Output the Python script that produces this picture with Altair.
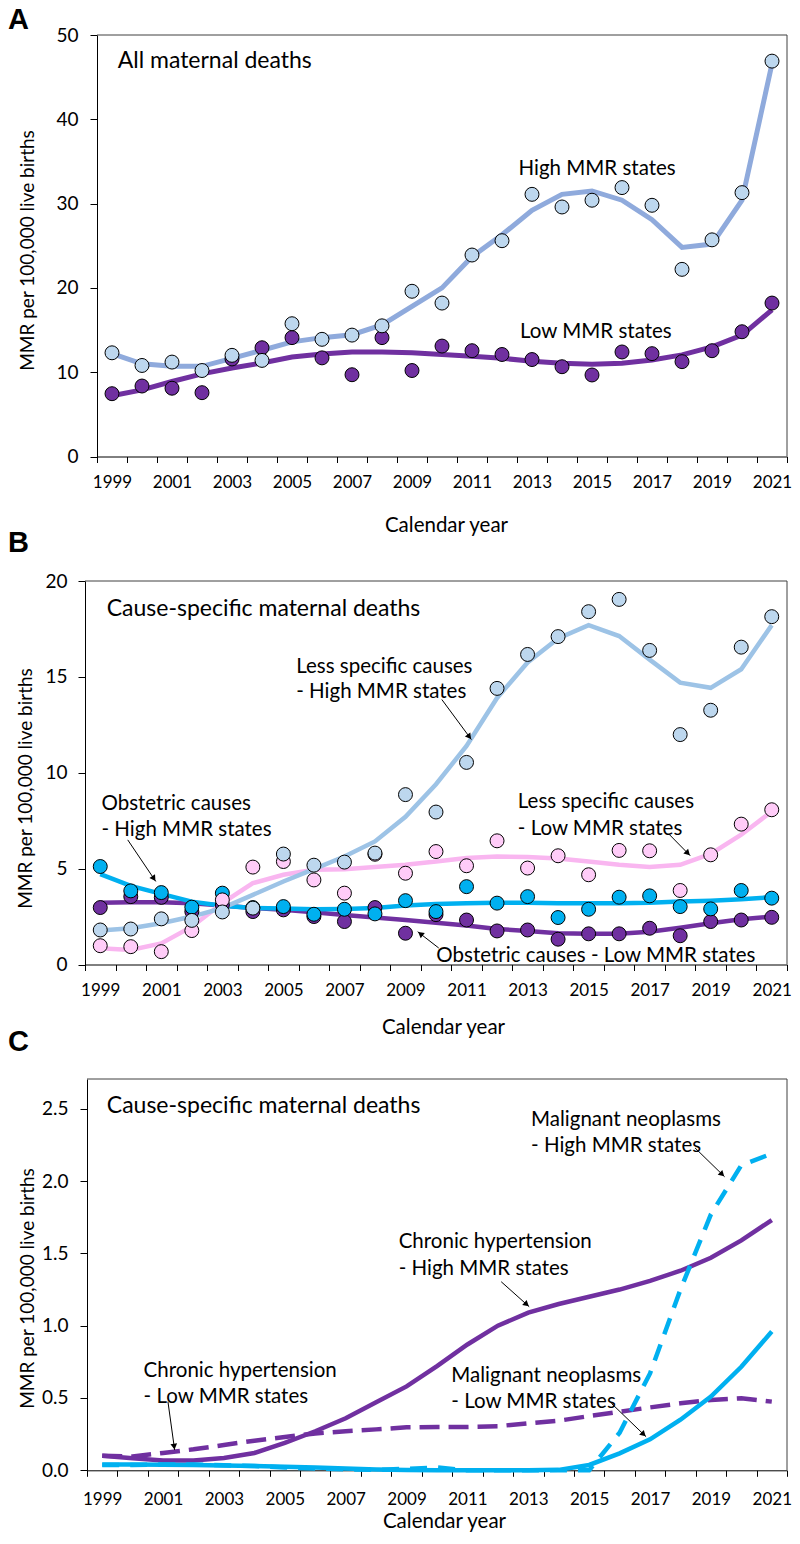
import math
import altair as alt
import pandas as pd

FONT = "Lato"
years = list(range(1999, 2022))

# ---------------- Panel A: all maternal deaths ----------------
a_high_pts = [12.3, 10.8, 11.2, 10.2, 12.0, 11.4, 15.75, 13.9, 14.4, 15.5, 19.6, 18.2,
              23.9, 25.6, 31.1, 29.6, 30.4, 31.9, 29.8, 22.2, 25.7, 31.3, 46.9]
a_high_fit = [12.2, 11.0, 10.7, 10.7, 11.65, 12.6, 13.6, 14.1, 14.45, 15.6, 17.8, 20.0,
              23.7, 26.3, 29.2, 31.1, 31.5, 30.4, 28.1, 24.8, 25.2, 30.4, 46.6]
a_low_pts = [7.45, 8.36, 8.1, 7.57, 11.57, 12.9, 14.1, 11.7, 9.7, 14.1, 10.2, 13.1,
             12.55, 12.1, 11.5, 10.65, 9.67, 12.4, 12.2, 11.25, 12.55, 14.8, 18.2]
a_low_fit = [7.2, 7.9, 8.9, 9.8, 10.5, 11.1, 11.8, 12.15, 12.4, 12.4, 12.3, 12.1,
             11.9, 11.65, 11.3, 11.05, 10.95, 11.05, 11.45, 12.05, 13.0, 14.4, 17.4]

# ---------------- Panel B: cause-specific ----------------
b_lsh_pts = [1.8, 1.85, 2.38, 2.3, 2.74, 2.94, 5.76, 5.18, 5.34, 5.81, 8.86, 7.95,
             10.54, 14.4, 16.17, 17.1, 18.4, 19.04, 16.38, 11.99, 13.26, 16.55, 18.14]
b_lsh_fit = [1.77, 1.89, 2.15, 2.5, 2.94, 3.63, 4.33, 4.97, 5.63, 6.42, 7.7, 9.4,
             11.4, 13.9, 15.75, 17.0, 17.7, 17.13, 15.9, 14.7, 14.43, 15.4, 17.7]
b_lsl_pts = [0.98, 0.93, 0.67, 1.77, 3.37, 5.08, 5.37, 4.41, 3.72, 5.75, 4.76, 5.89,
             5.15, 6.45, 5.03, 5.67, 4.68, 5.95, 5.93, 3.86, 5.72, 7.32, 8.07]
b_lsl_fit = [0.85, 0.76, 1.1, 1.97, 3.2, 4.24, 4.68, 4.94, 4.97, 5.08, 5.2, 5.37,
             5.55, 5.63, 5.6, 5.53, 5.37, 5.2, 5.08, 5.2, 5.77, 6.77, 7.98]
b_obh_pts = [5.11, 3.84, 3.75, 2.99, 3.72, 2.97, 3.02, 2.62, 2.88, 2.64, 3.33, 2.76,
             4.06, 3.2, 3.54, 2.45, 2.88, 3.51, 3.58, 3.02, 2.9, 3.86, 3.46]
b_obh_fit = [4.71, 4.1, 3.68, 3.28, 3.06, 2.95, 2.92, 2.88, 2.9, 2.95, 3.08, 3.16,
             3.2, 3.22, 3.22, 3.2, 3.2, 3.2, 3.22, 3.28, 3.33, 3.4, 3.51]
b_obl_pts = [2.97, 3.54, 3.5, 2.76, 3.1, 2.76, 2.85, 2.5, 2.24, 2.97, 1.63, 2.6,
             2.32, 1.75, 1.8, 1.32, 1.6, 1.6, 1.89, 1.5, 2.24, 2.32, 2.46]
b_obl_fit = [3.22, 3.25, 3.25, 3.2, 3.08, 2.95, 2.85, 2.72, 2.58, 2.45, 2.32, 2.18,
             2.03, 1.85, 1.75, 1.63, 1.6, 1.6, 1.71, 1.92, 2.15, 2.36, 2.5]

# ---------------- Panel C: specific causes ----------------
c_chh = [0.10, 0.083, 0.068, 0.068, 0.085, 0.12, 0.19, 0.27, 0.36, 0.47, 0.58, 0.72,
         0.87, 1.0, 1.09, 1.15, 1.2, 1.25, 1.31, 1.38, 1.47, 1.59, 1.73]
c_chl = [0.10, 0.096, 0.12, 0.145, 0.175, 0.205, 0.23, 0.255, 0.27, 0.283, 0.297, 0.3,
         0.3, 0.305, 0.325, 0.343, 0.375, 0.405, 0.435, 0.463, 0.486, 0.498, 0.475]
c_mnh = [0.037, 0.037, 0.04, 0.04, 0.035, 0.03, 0.02, 0.012, 0.006, 0.003, 0.01, 0.02,
         0.0, -0.05, -0.1, -0.09, -0.02, 0.26, 0.67, 1.25, 1.77, 2.11, 2.19]
c_mnl = [0.04, 0.04, 0.038, 0.036, 0.034, 0.03, 0.025, 0.02, 0.012, 0.005, 0.002, 0.0,
         -0.01, -0.01, -0.005, 0.003, 0.037, 0.117, 0.214, 0.35, 0.51, 0.716, 0.96]

# panel headers (text, year position, value position)
a_header = ("All maternal deaths", 1999.19, 46.87)
b_header = ("Cause-specific maternal deaths", 1999.21, 18.53)
c_header = ("Cause-specific maternal deaths", 1999.15, 2.517)

# annotation labels (text, year position, value position, align)
a_labels = [("High MMR states", 2015.17, 34.1, "center"),
            ("Low MMR states", 2015.13, 14.77, "center")]
b_labels = [("Less specific causes", 2005.42, 15.53, "left"),
            ("- High MMR states", 2005.42, 14.22, "left"),
            ("Less specific causes", 2012.68, 8.47, "left"),
            ("- Low MMR states", 2012.68, 7.08, "left"),
            ("Obstetric causes", 1999.04, 8.39, "left"),
            ("- High MMR states", 1999.04, 6.99, "left"),
            ("Obstetric causes - Low MMR states", 2010.01, 0.46, "left")]
c_labels = [("Malignant neoplasms", 2013.09, 2.423, "left"),
            ("- High MMR states", 2013.09, 2.245, "left"),
            ("Chronic hypertension", 2008.74, 1.577, "left"),
            ("- High MMR states", 2008.74, 1.392, "left"),
            ("Chronic hypertension", 2000.36, 0.685, "left"),
            ("- Low MMR states", 2000.36, 0.505, "left"),
            ("Malignant neoplasms", 2010.47, 0.654, "left"),
            ("- Low MMR states", 2010.47, 0.472, "left")]

# arrows: (year start, value start, year end, value end)
b_arrows = [(2010.19, 13.82, 2011.16, 11.73),
            (2017.65, 6.77, 2018.33, 5.67),
            (1999.90, 6.50, 2000.82, 4.33),
            (2010.09, 0.86, 2009.40, 1.71)]
c_arrows = [(2018.48, 2.229, 2019.45, 2.030),
            (2012.11, 1.304, 2013.03, 1.131),
            (2001.16, 0.474, 2001.38, 0.140),
            (2015.73, 0.463, 2016.87, 0.232)]

PURPLE = "#7030A0"
CYAN = "#00B0F0"
LB_FILL = "#BDD7EE"
PINK_FILL = "#FFCCF8"
PINK_LINE = "#F9B6F0"
FRAME = "#404040"

VW, VH = 784, 1524          # whole drawing area (page x 8..792, y 8..1532)
PLOT_RIGHT = 779


def make_panel(cfg):
    left, right = cfg["left"], PLOT_RIGHT
    top, bottom = cfg["top"], cfg["bottom"]
    W, H = right - left, bottom - top
    step = W / 23.0
    ppu = H / cfg["ymax"]
    xenc = alt.X(
        "year:Q",
        scale=alt.Scale(domain=[1998.5, 2021.5], range=[left, right], nice=False, zero=False),
        axis=alt.Axis(
            orient="bottom", offset=-(VH - bottom),
            values=[1998.5 + k for k in range(24)],
            labelExpr="(datum.value + 0.5) % 2 == 1 ? '' + (datum.value + 0.5) : ''",
            labelOffset=step / 2, labelFlush=False, labelOverlap=False,
            tickSize=6, labelPadding=cfg["xlp"], labelFontSize=17,
            titleFontSize=20.5, titleX=cfg["xtx"], titleY=cfg["xty"],
            titleBaseline="top", titleAlign="center", grid=False),
        title="Calendar year")
    yenc = alt.Y(
        "v:Q",
        scale=alt.Scale(domain=[0, cfg["ymax"]], range=[bottom, top], nice=False,
                        zero=False, clamp=True),
        axis=alt.Axis(orient="left", offset=-left, values=cfg["yvals"], format=cfg["yfmt"],
                      tickSize=7, labelPadding=cfg["ylp"], labelFontSize=19, titleFontSize=19,
                      titleX=cfg["ytx"], titleY=cfg["yty"], grid=False),
        title="MMR per 100,000 live births")

    layers = []
    frame = pd.DataFrame([dict(year=1998.5, v=cfg["ymax"], year2=2021.5, v2=cfg["ymax"]),
                          dict(year=2021.5, v=0, year2=2021.5, v2=cfg["ymax"])])
    layers.append(alt.Chart(frame).mark_rule(color=FRAME, strokeWidth=1).encode(
        x=xenc, y=yenc, x2=alt.X2("year2:Q"), y2=alt.Y2("v2:Q")))

    for vals, color, width, dash in cfg["lines"]:
        df = pd.DataFrame({"year": years, "v": vals})
        kw = dict(color=color, strokeWidth=width)
        if dash:
            kw["strokeDash"] = dash
        layers.append(alt.Chart(df).mark_line(**kw).encode(x=xenc, y=yenc))
    for vals, fill in cfg["points"]:
        df = pd.DataFrame({"year": years, "v": vals})
        layers.append(alt.Chart(df).mark_circle(
            size=195, fill=fill, stroke="black", strokeWidth=1, opacity=1
        ).encode(x=xenc, y=yenc))

    t, hx, hy = cfg["header"]
    layers.append(alt.Chart(pd.DataFrame([dict(label=t, year=hx, v=hy)])).mark_text(
        align="left", baseline="middle", font=FONT, fontSize=23, color="black"
    ).encode(x=xenc, y=yenc, text="label:N"))

    for align in ("left", "center"):
        rows = [dict(label=t, year=x, v=y) for t, x, y, a in cfg["labels"] if a == align]
        if rows:
            layers.append(alt.Chart(pd.DataFrame(rows)).mark_text(
                align=align, baseline="middle", font=FONT, fontSize=20.5, color="black"
            ).encode(x=xenc, y=yenc, text="label:N"))

    if cfg["arrows"]:
        rrows, hrows = [], []
        for x1, y1, x2, y2 in cfg["arrows"]:
            dxp = (x2 - x1) * step
            dyp = (y1 - y2) * ppu
            L = math.hypot(dxp, dyp)
            ux, uy = dxp / L, dyp / L
            rrows.append(dict(year=x1, v=y1, year2=x2, v2=y2))
            hrows.append(dict(year=x2 - 3.5 * ux / step, v=y2 + 3.5 * uy / ppu,
                              ang=math.degrees(math.atan2(ux, -uy)) % 360))
        layers.append(alt.Chart(pd.DataFrame(rrows)).mark_rule(
            color="black", strokeWidth=1).encode(
            x=xenc, y=yenc, x2=alt.X2("year2:Q"), y2=alt.Y2("v2:Q")))
        layers.append(alt.Chart(pd.DataFrame(hrows)).mark_point(
            shape="triangle-up", filled=True, color="black", size=45, opacity=1).encode(
            x=xenc, y=yenc, angle=alt.Angle("ang:Q", scale=None)))

    layers.append(alt.Chart(pd.DataFrame({"t": [cfg["letter"]]})).mark_text(
        align="left", baseline="alphabetic", font="Liberation Sans", fontWeight="bold",
        fontSize=29, color="black").encode(
        x=alt.value(0), y=alt.value(cfg["ly"]), text="t:N"))

    return alt.layer(*layers)


panel_a = make_panel(dict(
    left=89, top=27, bottom=448.5, ymax=50, yvals=[0, 10, 20, 30, 40, 50], yfmt="d",
    xlp=12.3, xtx=438, xty=58.5, ylp=12, ytx=-59.7, yty=242,
    lines=[(a_high_fit, "#8FAADC", 5, None), (a_low_fit, PURPLE, 5, None)],
    points=[(a_low_pts, PURPLE), (a_high_pts, LB_FILL)],
    header=a_header, labels=a_labels, arrows=[], letter="A", ly=21))

panel_b = make_panel(dict(
    left=77, top=573, bottom=956.5, ymax=20, yvals=[0, 5, 10, 15, 20], yfmt="d",
    xlp=12.3, xtx=435, xty=52.5, ylp=11, ytx=-49.3, yty=780,
    lines=[(b_obl_fit, PURPLE, 4.5, None), (b_obh_fit, CYAN, 4.5, None),
           (b_lsl_fit, PINK_LINE, 4.5, None), (b_lsh_fit, "#9DC3E6", 4.5, None)],
    points=[(b_obl_pts, PURPLE), (b_obh_pts, CYAN), (b_lsl_pts, PINK_FILL), (b_lsh_pts, LB_FILL)],
    header=b_header, labels=b_labels, arrows=b_arrows, letter="B", ly=543.7))

panel_c = make_panel(dict(
    left=79, top=1071, bottom=1462.3, ymax=2.706, yvals=[0, 0.5, 1.0, 1.5, 2.0, 2.5], yfmt=".1f",
    xlp=14.7, xtx=436, xty=41, ylp=12, ytx=-49.7, yty=1280,
    lines=[(c_chl, PURPLE, 4.5, [20, 9]), (c_chh, PURPLE, 4.5, None),
           (c_mnh, CYAN, 4.5, [17, 11]), (c_mnl, CYAN, 4.5, None)],
    points=[], header=c_header, labels=c_labels, arrows=c_arrows,
    letter="C", ly=1043))

chart = alt.layer(panel_a, panel_b, panel_c).resolve_scale(
    x="independent", y="independent"
).properties(
    width=VW, height=VH, padding=0, background="white",
    autosize=alt.AutoSizeParams(type="none")
).configure_view(
    strokeWidth=0, stroke="transparent"
).configure_axis(
    domainColor="black", tickColor="black", labelColor="black", titleColor="black",
    labelFont=FONT, titleFont=FONT, titleFontWeight="normal", domainWidth=1, tickWidth=1
)

chart.save("out.html", embed_options={"renderer": "svg", "actions": False})
